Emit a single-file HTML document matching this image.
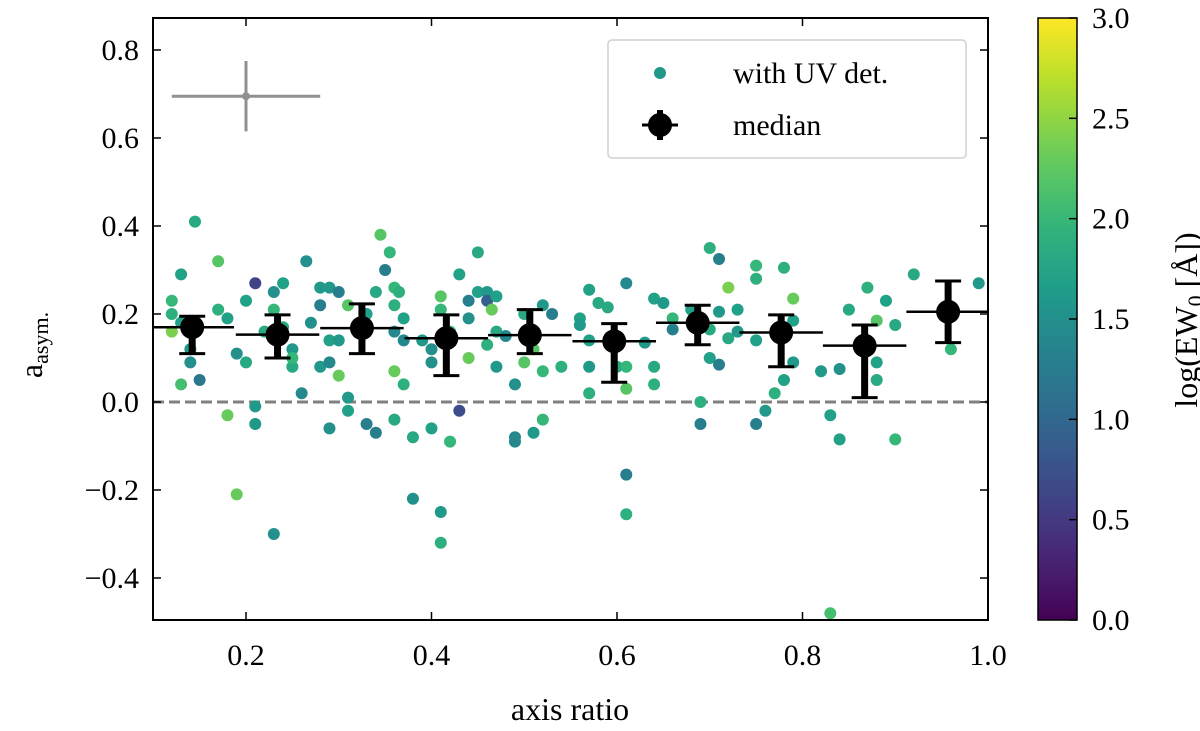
<!DOCTYPE html>
<html><head><meta charset="utf-8"><style>
body{margin:0;background:#fff}
svg{display:block;font-family:"Liberation Serif",serif}
</style></head><body>
<svg id="c" width="1200" height="731" viewBox="0 0 1200 731"></svg>
<script>
const ptQ=[0.145,0.13,0.17,0.12,0.12,0.13,0.12,0.15,0.13,0.14,0.14,0.18,0.19,0.21,0.2,0.22,0.19,0.2,0.17,0.18,0.21,0.21,0.23,0.23,0.24,0.23,0.24,0.25,0.25,0.25,0.26,0.265,0.28,0.29,0.28,0.27,0.29,0.28,0.3,0.29,0.31,0.31,0.3,0.3,0.31,0.29,0.33,0.34,0.33,0.34,0.345,0.355,0.35,0.36,0.36,0.36,0.365,0.37,0.37,0.36,0.37,0.38,0.38,0.36,0.39,0.4,0.41,0.41,0.4,0.4,0.41,0.41,0.42,0.43,0.43,0.42,0.44,0.45,0.44,0.45,0.46,0.46,0.465,0.47,0.47,0.47,0.46,0.44,0.48,0.49,0.49,0.49,0.5,0.51,0.51,0.52,0.52,0.51,0.52,0.5,0.57,0.56,0.56,0.58,0.59,0.61,0.57,0.57,0.57,0.6,0.61,0.61,0.63,0.64,0.64,0.64,0.65,0.66,0.66,0.68,0.7,0.7,0.71,0.71,0.72,0.73,0.73,0.72,0.7,0.71,0.69,0.69,0.75,0.75,0.75,0.78,0.79,0.79,0.79,0.78,0.77,0.76,0.75,0.82,0.84,0.85,0.83,0.84,0.87,0.88,0.88,0.88,0.89,0.9,0.92,0.9,0.99,0.96,0.83,0.61,0.61,0.53,0.54];
const ptA=[0.41,0.29,0.32,0.23,0.2,0.18,0.16,0.05,0.04,0.09,0.12,-0.03,-0.21,0.27,0.23,0.16,0.11,0.09,0.21,0.19,-0.01,-0.05,-0.3,0.25,0.27,0.21,0.17,0.12,0.08,0.1,0.02,0.32,0.26,0.26,0.22,0.18,0.14,0.08,0.06,-0.06,-0.02,0.22,0.25,0.14,0.01,0.09,0.2,0.25,-0.05,-0.07,0.38,0.34,0.3,0.26,0.22,0.16,0.25,0.19,0.14,0.07,0.04,-0.08,-0.22,-0.04,0.14,0.12,0.24,0.21,0.09,-0.06,-0.25,-0.32,-0.09,-0.02,0.29,0.16,0.19,0.34,0.23,0.25,0.25,0.23,0.21,0.24,0.16,0.08,0.13,0.1,0.15,0.04,-0.08,-0.09,0.2,0.16,-0.07,0.22,-0.04,0.12,0.07,0.09,0.255,0.19,0.175,0.225,0.215,0.27,0.14,0.08,0.02,0.08,0.08,0.03,0.135,0.08,0.04,0.235,0.225,0.165,0.19,0.21,0.165,0.1,0.205,0.085,0.145,0.21,0.16,0.26,0.35,0.325,0.0,-0.05,0.31,0.28,0.14,0.305,0.235,0.185,0.09,0.05,0.02,-0.02,-0.05,0.07,0.075,0.21,-0.03,-0.085,0.26,0.09,0.05,0.185,0.23,0.175,0.29,-0.085,0.27,0.12,-0.48,-0.165,-0.255,0.2,0.08];
const ptE=[1.8,1.7,2.2,2.0,1.9,1.7,2.4,1.2,2.1,1.5,1.6,2.3,2.3,0.6,1.7,1.8,1.5,1.8,1.9,1.7,1.6,1.6,1.5,1.5,1.7,2.0,1.8,1.6,1.8,2.0,1.4,1.5,1.6,1.6,1.3,1.5,1.7,1.6,2.3,1.5,1.7,2.2,1.3,1.6,1.6,1.4,1.7,1.8,1.3,1.3,2.2,2.0,1.3,2.0,1.9,1.4,1.9,1.7,1.4,2.3,1.9,1.8,1.5,1.8,1.6,1.5,2.2,2.0,1.5,1.7,1.6,1.9,2.0,0.7,1.7,2.0,1.5,1.8,1.3,1.7,1.6,0.9,2.3,1.7,1.8,1.6,1.9,2.3,1.4,1.5,1.4,1.4,1.8,1.7,1.6,1.6,2.0,2.2,2.0,2.2,1.7,1.7,1.6,1.8,1.8,1.4,1.7,1.6,1.9,1.8,2.0,2.2,1.6,1.8,1.9,1.7,1.6,1.3,2.0,1.7,1.8,1.7,1.6,1.3,1.8,1.7,1.6,2.4,1.9,1.3,1.9,1.3,2.0,1.9,1.7,1.9,2.3,1.7,1.6,1.7,1.9,1.6,1.3,1.6,1.5,1.8,1.7,1.7,1.9,1.7,1.8,2.2,1.7,1.8,1.8,2.0,1.6,2.0,2.1,1.3,1.9,1.3,1.9,1.9,2.0];
const medQ=[0.142,0.234,0.325,0.416,0.506,0.597,0.687,0.777,0.867,0.957];
const medA=[0.17,0.153,0.168,0.145,0.152,0.138,0.18,0.158,0.128,0.205];
const medHi=[0.195,0.198,0.223,0.198,0.21,0.178,0.22,0.198,0.175,0.275];
const medLo=[0.11,0.10,0.11,0.06,0.11,0.045,0.13,0.08,0.01,0.135];
const xTicks=[0.2,0.4,0.6,0.8,1.0];
const xTickLabels=["0.2","0.4","0.6","0.8","1.0"];
const yTicks=[-0.4,-0.2,0,0.2,0.4,0.6,0.8];
const yTickLabels=["\u22120.4","\u22120.2","0.0","0.2","0.4","0.6","0.8"];
const cTicks=[0,0.5,1,1.5,2,2.5,3];
const cTickLabels=["0.0","0.5","1.0","1.5","2.0","2.5","3.0"];

const L=153,R=988,T=18,B=620;
const X=q=>153.25+(q-0.1)*927.5;
const Y=a=>402-a*440;
const CY=v=>620-v*(602/3);
const VIR=[[68,1,84],[72,40,120],[62,74,137],[49,104,142],[38,130,142],[31,158,137],[53,183,121],[109,205,89],[180,222,44],[253,231,37]];
function vir(t){t=Math.max(0,Math.min(1,t));const f=t*9,i=Math.min(8,Math.floor(f)),u=f-i;const a=VIR[i],b=VIR[i+1];return `rgb(${a.map((v,k)=>Math.round(v+(b[k]-v)*u)).join(',')})`;}
const svg=document.getElementById('c');const NS='http://www.w3.org/2000/svg';
function mk(tag,at,parent){const e=document.createElementNS(NS,tag);for(const k in at)e.setAttribute(k,at[k]);(parent||svg).appendChild(e);return e;}
const clip=mk('clipPath',{id:'pc'});mk('rect',{x:L,y:T,width:R-L,height:B-T},clip);
const g=mk('g',{'clip-path':'url(#pc)'});
let e=mk('line',{x1:L,x2:R,y1:Y(0),y2:Y(0),stroke:'#808080','stroke-width':3,'stroke-dasharray':'11,5'},g);


for(let i=0;i<ptQ.length;i++){
 e=mk('circle',{cx:X(ptQ[i]),cy:Y(ptA[i]),r:6,fill:vir(ptE[i]/3)},g);
 
 
}
for(let i=0;i<medQ.length;i++){
 const mg=mk('g',{},g);
 
 
 const x=X(medQ[i]);
 mk('line',{x1:X(medQ[i]-0.045),x2:X(medQ[i]+0.045),y1:Y(medA[i]),y2:Y(medA[i]),stroke:'#000','stroke-width':2.5},mg);
 mk('line',{x1:x,x2:x,y1:Y(medHi[i]),y2:Y(medLo[i]),stroke:'#000','stroke-width':7},mg);
 mk('line',{x1:x-13,x2:x+13,y1:Y(medHi[i]),y2:Y(medHi[i]),stroke:'#000','stroke-width':3},mg);
 mk('line',{x1:x-13,x2:x+13,y1:Y(medLo[i]),y2:Y(medLo[i]),stroke:'#000','stroke-width':3},mg);
 mk('circle',{cx:x,cy:Y(medA[i]),r:12,fill:'#000'},mg);
}
const eg=mk('g',{});
mk('line',{x1:X(0.12),x2:X(0.28),y1:Y(0.695),y2:Y(0.695),stroke:'#909090','stroke-width':3},eg);
mk('line',{x1:X(0.2),x2:X(0.2),y1:Y(0.775),y2:Y(0.615),stroke:'#909090','stroke-width':3},eg);
mk('circle',{cx:X(0.2),cy:Y(0.695),r:4,fill:'#909090'},eg);
e=mk('rect',{x:L,y:T,width:R-L,height:B-T,fill:'none',stroke:'#000','stroke-width':2});

xTicks.forEach((v,i)=>{const x=X(v);
 mk('line',{x1:x,x2:x,y1:B,y2:B-8,stroke:'#000','stroke-width':1.5});
 mk('line',{x1:x,x2:x,y1:T,y2:T+8,stroke:'#000','stroke-width':1.5});
 e=mk('text',{x:x,y:B+45,'font-size':30,'text-anchor':'middle'});e.textContent=xTickLabels[i];
 });
yTicks.forEach((v,i)=>{const y=Y(v);
 mk('line',{x1:L,x2:L+8,y1:y,y2:y,stroke:'#000','stroke-width':1.5});
 mk('line',{x1:R,x2:R-8,y1:y,y2:y,stroke:'#000','stroke-width':1.5});
 e=mk('text',{x:L-14,y:y+10,'font-size':30,'text-anchor':'end'});e.textContent=yTickLabels[i];
 });
e=mk('text',{x:570,y:720,'font-size':32,'text-anchor':'middle'});e.textContent='axis ratio';

e=mk('text',{transform:'translate(42,345) rotate(-90)','font-size':32,'text-anchor':'middle'});
e.innerHTML='a<tspan font-size="22" dy="6">asym.</tspan>';

const lg=mk('g',{});
mk('rect',{x:608,y:40,width:358,height:118,rx:4,fill:'#fff',stroke:'#d0d0d0','stroke-width':1.5},lg);
mk('circle',{cx:660,cy:73,r:6,fill:vir(1.6/3)},lg);
e=mk('text',{x:733,y:83,'font-size':30},lg);e.textContent='with UV det.';

mk('line',{x1:642,x2:678,y1:125,y2:125,stroke:'#000','stroke-width':3},lg);
mk('line',{x1:660,x2:660,y1:110,y2:140,stroke:'#000','stroke-width':6},lg);
mk('circle',{cx:660,cy:125,r:12,fill:'#000'},lg);
e=mk('text',{x:733,y:135,'font-size':30},lg);e.textContent='median';

const defs=mk('defs',{});const gr=mk('linearGradient',{id:'vg',x1:0,y1:1,x2:0,y2:0},defs);
for(let i=0;i<=20;i++)mk('stop',{offset:i/20,'stop-color':vir(i/20)},gr);
e=mk('rect',{x:1038,y:18,width:39,height:602,fill:'url(#vg)',stroke:'#000','stroke-width':1.5});

cTicks.forEach((v,i)=>{const y=CY(v);
 mk('line',{x1:1077,x2:1069,y1:y,y2:y,stroke:'#000','stroke-width':1.5});
 e=mk('text',{x:1092,y:y+10,'font-size':30});e.textContent=cTickLabels[i];
 });
e=mk('text',{transform:'translate(1197,320) rotate(-90)','font-size':32,'text-anchor':'middle'});
e.innerHTML='log(EW<tspan font-size="22" dy="6">0</tspan><tspan dy="-6"> [Å])</tspan>';

</script>
</body></html>
